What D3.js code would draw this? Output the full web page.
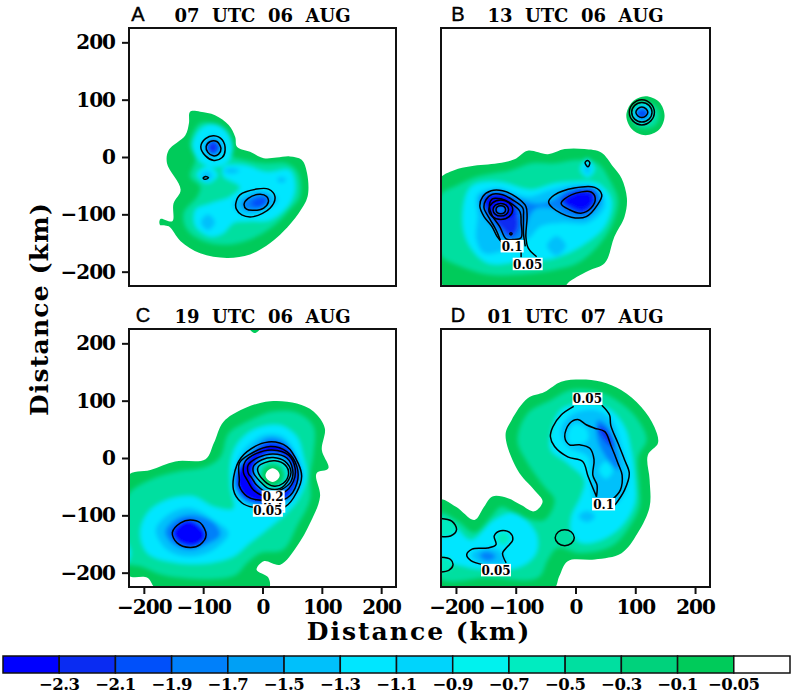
<!DOCTYPE html>
<html>
<head>
<meta charset="utf-8">
<script src="https://cdn.jsdelivr.net/npm/d3@7"></script>
<style>
html, body { margin: 0; background: #fff; }
text { font-family: "DejaVu Serif", serif; font-weight: bold; fill: #000; }
</style>
</head>
<body>
<div id="chart"></div>
<script>
// band colours, deepest first, last one is the white box above -0.05
var bandColors = ["#0000ff", "#0a2cf2", "#0050fa", "#0080fa", "#00a0f5", "#00c0fb", "#00e6ff",
  "#00d4fc", "#00f2ee", "#00ecc0", "#00dfa0", "#00d27c", "#00cb5a", "#ffffff"];
var legendLabels = ["-2.3", "-2.1", "-1.9", "-1.7", "-1.5", "-1.3", "-1.1", "-0.9", "-0.7", "-0.5", "-0.3", "-0.1", "-0.05"];
var tickValues = [-200, -100, 0, 100, 200];

// filled bands, [colour index, ring in km]; the -0.05 edges come first in each panel
var ringsA = [
  [12, [[-122,79],[-105,79],[-80,73],[-57,56],[-46,35],[-43,18],[-21,9],[2,-2],[24,-1],[46,1],[66,-5],[75,-28],[76,-69],[61,-98],[35,-130],[13,-150],[-21,-170],[-60,-176],[-105,-168],[-138,-147],[-158,-121],[-173,-118],[-172,-108],[-152,-112],[-150,-81],[-138,-57],[-161,-11],[-158,12],[-130,38],[-124,59]]],
  [10, [[-105,59],[-80,56],[-63,35],[-60,6],[-32,-5],[2,-11],[41,-11],[60,-28],[63,-69],[46,-92],[18,-121],[-21,-144],[-60,-153],[-99,-147],[-127,-127],[-133,-98],[-110,-69],[-105,-52],[-122,-34],[-113,-5],[-122,24]]],
  [6, [[-83,58],[-60,45],[-50,15],[-60,-10],[-85,-18],[-108,-5],[-118,20],[-105,48]]],
  [6, [[-111,-31],[-93,-16],[-75,-31],[-93,-46]]],
  [6, [[-66,-17],[-32,-14],[7,-26],[46,-23],[55,-52],[46,-81],[13,-110],[-21,-112],[-49,-115],[-66,-133],[-88,-139],[-113,-121],[-113,-92],[-88,-81],[-54,-69],[-38,-52],[-66,-34]]],
  [5, [[-103,18],[-83,38],[-63,18],[-83,-4]]],
  [5, [[-50,-82],[-12,-58],[22,-68],[26,-76],[-10,-100],[-38,-98]]],
  [5, [[-104,-114],[-92,-100],[-80,-114],[-92,-128]]],
  [5, [[-66,-24],[-52,-19],[-38,-24],[-52,-29]]],
  [5, [[24,-40],[32,-35],[40,-40],[32,-45]]],
  [5, [[-104,-33],[-94,-25],[-84,-33],[-94,-41]]],
  [2, [[-95,17],[-83,31],[-71,17],[-83,3]]],
  [3, [[-36,-82],[-10,-66],[10,-68],[12,-78],[-8,-92],[-26,-92]]],
  [1, [[-91,16],[-84,24],[-77,16],[-84,8]]],
  [2, [[-20,-81],[-8,-71],[6,-72],[4,-84],[-10,-88]]]
];
var linesA = [
  [true, [[-104,18],[-96,32],[-82,37],[-68,30],[-63,12],[-68,-1],[-82,-6],[-96,2]]],
  [true, [[-95,18],[-88,27],[-77,27],[-70,15],[-74,5],[-83,2],[-92,8]]],
  [true, [[-100,-37],[-96,-34],[-91,-36],[-96,-39]]],
  [true, [[-45,-81],[-38,-66],[-10,-56],[10,-56],[21,-69],[13,-89],[-15,-104],[-35,-101],[-44,-91]]],
  [true, [[-31,-82],[-24,-72],[-4,-65],[7,-69],[10,-78],[2,-89],[-15,-93],[-27,-91]]]
];
var labelsA = [];

var ringsB = [
  [12, [[-228,-40],[-203,-23],[-175,-16],[-130,-11],[-102,-4],[-80,11],[-46,5],[-18,14],[15,14],[43,8],[63,-17],[77,-37],[86,-72],[82,-104],[65,-139],[49,-185],[21,-199],[-13,-220],[-21,-232],[-211,-232],[-228,-211]]],
  [12, [[117,106],[140,96],[149,72],[140,48],[117,38],[95,48],[85,72],[95,96]]],
  [10, [[-228,-69],[-197,-49],[-164,-34],[-108,-23],[-74,-11],[-35,-11],[4,-5],[37,-11],[57,-40],[71,-75],[60,-121],[37,-156],[4,-185],[-35,-197],[-91,-205],[-147,-205],[-192,-191],[-228,-168]]],
  [10, [[117,96],[134,88],[140,72],[134,56],[117,50],[100,56],[94,72],[100,88]]],
  [6, [[-175,-52],[-130,-43],[-74,-57],[-35,-46],[-7,-43],[37,-46],[60,-75],[49,-121],[9,-156],[-35,-176],[-91,-182],[-147,-185],[-180,-150],[-189,-104]]],
  [6, [[8,-22],[20,-2],[32,-22],[20,-36]]],
  [6, [[93,76],[112,95],[131,76],[112,57]]],
  [5, [[15,-22],[20,-12],[25,-22],[20,-30]]],
  [5, [[-164,-66],[-130,-54],[-80,-69],[-41,-57],[4,-49],[40,-57],[49,-86],[21,-115],[-24,-115],[-58,-121],[-80,-144],[-97,-147],[-119,-162],[-153,-168],[-166,-144],[-164,-104]]],
  [5, [[-48,-155],[-32,-138],[-16,-155],[-32,-172]]],
  [2, [[100,76],[112,87],[124,76],[112,64]]],
  [3, [[-158,-69],[-130,-59],[-102,-69],[-69,-81],[-44,-78],[-13,-57],[32,-54],[43,-75],[21,-104],[-13,-104],[-41,-89],[-69,-92],[-85,-127],[-91,-144],[-116,-144],[-139,-121],[-155,-98]]],
  [1, [[-153,-69],[-127,-62],[-105,-72],[-97,-98],[-97,-127],[-108,-139],[-122,-127],[-141,-104],[-153,-86]]],
  [1, [[-24,-75],[4,-57],[32,-60],[32,-81],[15,-98],[-7,-92]]],
  [0, [[-150,-75],[-125,-66],[-105,-81],[-105,-104],[-125,-104],[-144,-92]]],
  [0, [[-18,-78],[4,-63],[26,-66],[26,-81],[9,-92],[-7,-86]]],
  [3, [[-135,-92],[-125,-84],[-115,-92],[-125,-100]]]
];
var linesB = [
  [true, [[-45,-78],[-35,-66],[-2,-54],[32,-53],[44,-66],[37,-83],[18,-104],[-7,-105],[-38,-89]]],
  [true, [[-24,-81],[-7,-66],[26,-61],[33,-72],[26,-89],[9,-98],[-10,-92]]],
  [true, [[16,-10],[20,-6],[24,-10],[21,-17]]],
  [true, [[90,78],[96,93],[111,100],[126,93],[132,78],[126,63],[111,56],[96,63]]],
  [true, [[94,78],[99,90],[111,95],[123,90],[128,78],[123,66],[111,61],[99,66]]],
  [true, [[111,87],[118,84],[121,78],[118,72],[111,69],[104,72],[101,78],[104,84]]],
  [false, [[-65,-174],[-79,-159],[-83,-139],[-81,-104],[-83,-86],[-99,-70],[-122,-59],[-141,-59],[-155,-69],[-160,-86],[-153,-104],[-140,-121],[-131,-139],[-123,-149]]],
  [false, [[-84,-156],[-87,-133],[-87,-104],[-88,-89],[-105,-75],[-122,-66],[-139,-65],[-150,-75],[-153,-89],[-144,-107],[-133,-127],[-125,-147]]],
  [true, [[-91,-141],[-91,-115],[-93,-95],[-108,-81],[-125,-73],[-139,-73],[-144,-83],[-140,-101],[-127,-121],[-116,-143],[-105,-144]]],
  [true, [[-125,-75],[-111,-80],[-105,-92],[-111,-104],[-125,-109],[-139,-104],[-145,-92],[-139,-80]]],
  [true, [[-125,-81],[-116,-84],[-112,-92],[-116,-100],[-125,-103],[-134,-100],[-138,-92],[-134,-84]]],
  [true, [[-125,-85],[-119,-87],[-117,-92],[-119,-97],[-125,-99],[-131,-97],[-133,-92],[-131,-87]]],
  [true, [[-110,-134],[-108,-132],[-106,-134],[-108,-136]]],
  [false, [[-91,-165],[-91,-175]]]
];
var labelsB = [["0.1", -106, -156], ["0.05", -80, -187]];

var ringsC = [
  [12, [[-22,226],[-13,218],[-4,226],[-13,232]]],
  [12, [[-228,-32],[-189,-21],[-147,-6],[-96,-2],[-82,26],[-66,63],[-32,86],[13,99],[58,95],[86,81],[105,52],[100,14],[111,-18],[91,-27],[97,-67],[80,-114],[58,-154],[30,-186],[2,-180],[-10,-195],[10,-209],[10,-228],[-178,-228],[-194,-209],[-228,-203]]],
  [10, [[-228,-67],[-189,-38],[-144,-24],[-94,-15],[-71,2],[-57,43],[-21,66],[18,81],[58,79],[86,55],[86,8],[80,-32],[80,-73],[58,-119],[35,-160],[-4,-166],[-26,-183],[-49,-206],[-161,-206],[-206,-189],[-228,-183]]],
  [6, [[-52,2],[-38,31],[-10,52],[30,57],[58,37],[69,2],[75,-32],[63,-67],[41,-96],[7,-125],[-21,-148],[-49,-172],[-88,-183],[-144,-183],[-194,-166],[-206,-131],[-194,-96],[-161,-73],[-116,-67],[-82,-85],[-49,-88],[-54,-50]]],
  [6, [[-235,-140],[-222,-165],[-235,-195]]],
  [5, [[-46,-15],[-32,14],[2,40],[35,37],[58,2],[69,-32],[52,-73],[24,-87],[-10,-87],[-38,-73],[-49,-50]]],
  [5, [[-180,-125],[-155,-96],[-122,-87],[-82,-108],[-57,-131],[-82,-160],[-122,-172],[-161,-160]]],
  [3, [[-43,-21],[-26,2],[7,34],[35,29],[58,-3],[63,-38],[41,-73],[2,-81],[-32,-73],[-46,-49]]],
  [3, [[-164,-128],[-144,-105],[-116,-99],[-82,-113],[-71,-134],[-94,-151],[-122,-160],[-150,-151]]],
  [0, [[-43,-24],[-24,2],[13,26],[46,14],[60,-15],[58,-44],[30,-79],[-4,-79],[-32,-67],[-43,-49]]],
  [0, [[-152,-130],[-138,-113],[-122,-108],[-99,-125],[-96,-140],[-116,-154],[-141,-148]]],
  [5, [[18,8],[41,-2],[51,-27],[41,-52],[18,-62],[-5,-52],[-15,-27],[-5,-2]]],
  [8, [[18,0],[37,-8],[45,-28],[37,-48],[18,-56],[-1,-48],[-9,-28],[-1,-8]]],
  [10, [[17,-5],[34,-12],[41,-29],[34,-46],[17,-53],[0,-46],[-6,-29],[0,-12]]],
  [12, [[17,-12],[30,-17],[35,-30],[30,-43],[17,-48],[4,-43],[-1,-30],[4,-17]]],
  [13, [[17,-18],[25,-22],[29,-30],[25,-38],[17,-42],[9,-38],[5,-30],[9,-22]]]
];
var linesC = [
  [true, [[-49,-55],[-43,-12],[-26,11],[10,28],[41,20],[60,-9],[66,-32],[58,-59],[38,-85],[-15,-86],[-35,-78]]],
  [true, [[-39,-38],[-39,-9],[-24,5],[13,20],[41,11],[58,-15],[58,-44],[41,-70],[-10,-73],[-26,-67],[-39,-49]]],
  [true, [[-32,-26],[-29,-6],[-10,8],[16,14],[44,5],[55,-18],[52,-41],[35,-61],[7,-67],[-15,-56],[-26,-38]]],
  [true, [[-24,-26],[-24,-12],[-7,1],[18,7],[41,0],[51,-21],[48,-41],[32,-55],[10,-61],[-10,-47],[-18,-35]]],
  [true, [[-15,-26],[-15,-14],[-1,-3],[18,1],[38,-6],[48,-24],[44,-38],[30,-53],[10,-53],[-4,-41]]],
  [true, [[-8,-23],[-7,-15],[4,-8],[21,-5],[38,-12],[44,-27],[35,-44],[18,-49],[4,-41]]],
  [true, [[-152,-130],[-138,-113],[-122,-108],[-105,-113],[-95,-134],[-105,-151],[-122,-156],[-144,-148]]]
];
var labelsC = [["0.1", 19, -85], ["0.2", 18, -68], ["0.05", 9, -92]];

var ringsD = [
  [12, [[-228,-73],[-200,-85],[-169,-108],[-153,-85],[-139,-67],[-113,-70],[-91,-82],[-69,-93],[-55,-76],[-69,-56],[-97,-21],[-117,40],[-107,66],[-80,104],[-52,115],[-24,133],[9,137],[43,133],[77,118],[110,89],[132,54],[138,26],[121,5],[124,-38],[124,-85],[104,-131],[77,-166],[32,-177],[-13,-180],[-27,-206],[-38,-230],[-228,-230]]],
  [10, [[-228,-96],[-197,-110],[-169,-130],[-141,-102],[-124,-85],[-91,-102],[-52,-108],[-35,-73],[-52,-50],[-80,-9],[-97,31],[-80,78],[-41,101],[-7,119],[38,116],[77,95],[105,66],[119,32],[105,2],[107,-50],[107,-85],[87,-125],[60,-154],[9,-166],[-30,-157],[-46,-177],[-63,-209],[-147,-209],[-228,-209]]],
  [6, [[-41,43],[-24,84],[15,95],[54,87],[82,54],[93,14],[99,-32],[99,-79],[77,-119],[43,-143],[9,-148],[-7,-131],[-7,-102],[9,-67],[15,-38],[-13,-9],[-41,14]]],
  [6, [[-228,-108],[-203,-119],[-175,-143],[-136,-108],[-102,-96],[-66,-131],[-66,-166],[-91,-189],[-147,-195],[-186,-189],[-228,-172]]],
  [5, [[-24,49],[-7,75],[32,84],[60,67],[77,20],[88,-27],[82,-61],[60,-85],[32,-73],[26,-32],[21,2],[-13,20]]],
  [6, [[-13,43],[-2,60],[18,52],[21,32],[4,23],[-10,25]]],
  [6, [[39,-21],[51,-6],[63,-21],[51,-36]]],
  [5, [[-175,-169],[-153,-157],[-125,-163],[-119,-183],[-153,-186]]],
  [5, [[5,-102],[19,-92],[33,-102],[19,-112]]],
  [3, [[37,66],[54,55],[71,8],[71,-21],[54,-3],[37,31]]],
  [1, [[37,54],[49,52],[65,20],[54,25]]],
  [3, [[-161,-169],[-147,-163],[-133,-172],[-147,-180]]],
  [10, [[-18,-125],[-7,-129],[-2,-139],[-7,-149],[-18,-153],[-29,-149],[-34,-139],[-29,-129]]],
  [9, [[-133,-140],[-121,-128],[-109,-140],[-121,-152]]],
  [9, [[-230,-105],[-207,-110],[-199,-122],[-207,-134],[-230,-136]]],
  [9, [[-230,-173],[-209,-177],[-205,-187],[-212,-196],[-230,-199]]]
];
var linesD = [
  [false, [[-3,90],[-24,75],[-38,54],[-42,37],[-35,20],[-13,2],[12,-6],[21,-32],[35,-67]]],
  [false, [[44,92],[57,75],[59,57],[71,26],[82,-3],[90,-27],[82,-56],[66,-82]]],
  [false, [[35,-68],[36,-47],[29,-30],[31,-3],[24,17],[7,23],[-10,23],[-18,37],[-10,60],[4,67],[18,58],[32,52],[49,46],[60,20],[71,-9],[78,-30],[75,-56],[61,-73]]],
  [true, [[-18,-125],[-7,-129],[-2,-139],[-7,-149],[-18,-153],[-29,-149],[-34,-139],[-29,-129]]],
  [false, [[-232,-105],[-207,-110],[-199,-125],[-209,-136],[-232,-136]]],
  [false, [[-232,-173],[-209,-177],[-205,-187],[-212,-196],[-232,-199]]],
  [false, [[-155,-186],[-175,-179],[-182,-169],[-173,-159],[-147,-157],[-133,-151],[-136,-136],[-125,-127],[-110,-130],[-105,-143],[-116,-157],[-122,-166],[-116,-183]]]
];
var labelsD = [["0.05", 20, 103], ["0.1", 47, -81], ["0.05", -133, -196]];

var panels = [
  {letter: "A", title: "07  UTC  06  AUG", rings: ringsA, lines: linesA, labels: labelsA, edges: 1, left: 129, right: 396, top: 28, bottom: 286, yAxis: true, xAxis: false, letterX: 138},
  {letter: "B", title: "13  UTC  06  AUG", rings: ringsB, lines: linesB, labels: labelsB, edges: 2, left: 441, right: 710, top: 28, bottom: 286, yAxis: false, xAxis: false, letterX: 458},
  {letter: "C", title: "19  UTC  06  AUG", rings: ringsC, lines: linesC, labels: labelsC, edges: 2, left: 129, right: 396, top: 329, bottom: 587, yAxis: true, xAxis: true, letterX: 143},
  {letter: "D", title: "01  UTC  07  AUG", rings: ringsD, lines: linesD, labels: labelsD, edges: 1, left: 441, right: 710, top: 329, bottom: 587, yAxis: false, xAxis: true, letterX: 458}
];

var width = 796, height = 695;
var svg = d3.select("#chart").append("svg").attr("width", width).attr("height", height);
var defs = svg.append("defs");
defs.append("filter").attr("id", "soft").attr("x", "-30%").attr("y", "-30%").attr("width", "160%").attr("height", "160%")
  .append("feGaussianBlur").attr("stdDeviation", 2);
defs.append("filter").attr("id", "edge").append("feGaussianBlur").attr("stdDeviation", 0.6);

function styleAxis(a) {
  a.select(".domain").remove();
  a.selectAll("line").attr("stroke", "#111").attr("stroke-width", 2);
  a.selectAll("text").attr("font-size", 20).attr("font-family", "DejaVu Serif").attr("font-weight", "bold")
    .attr("letter-spacing", -1);
}

panels.forEach(function(p, n) {
  var x = d3.scaleLinear().domain([-225, 225]).range([p.left, p.right]);
  var y = d3.scaleLinear().domain([-225, 225]).range([p.bottom, p.top]);
  var closedLine = d3.line().x(function(d) { return x(d[0]); }).y(function(d) { return y(d[1]); }).curve(d3.curveCatmullRomClosed.alpha(0.5));
  var openLine = d3.line().x(function(d) { return x(d[0]); }).y(function(d) { return y(d[1]); }).curve(d3.curveCatmullRom.alpha(0.5));

  defs.append("clipPath").attr("id", "clip" + n).append("rect")
    .attr("x", p.left).attr("y", p.top).attr("width", p.right - p.left).attr("height", p.bottom - p.top);

  var g = svg.append("g").attr("clip-path", "url(#clip" + n + ")");

  // -0.05 edge and the white eye stay sharp, the rest is blurred into a ramp
  var eye = p.rings.filter(function(r) { return r[0] === 13; });
  var inner = p.rings.slice(p.edges).filter(function(r) { return r[0] !== 13; });
  [[p.rings.slice(0, p.edges), "edge"], [inner, "soft"], [eye, "edge"]].forEach(function(layer) {
    g.append("g").attr("filter", "url(#" + layer[1] + ")").selectAll("path").data(layer[0]).enter().append("path")
      .attr("d", function(r) { return closedLine(r[1]); })
      .attr("fill", function(r) { return bandColors[r[0]]; });
  });

  g.selectAll("path.contour").data(p.lines).enter().append("path")
    .attr("class", "contour")
    .attr("d", function(l) { return l[0] ? closedLine(l[1]) : openLine(l[1]); })
    .attr("fill", "none").attr("stroke", "#000").attr("stroke-width", 1.5);

  var lab = g.selectAll("g.lab").data(p.labels).enter().append("g").attr("class", "lab")
    .attr("transform", function(d) { return "translate(" + x(d[1]) + "," + y(d[2]) + ")"; });
  lab.append("rect").attr("x", function(d) { return -d[0].length * 3.5 - 1; }).attr("y", -6.5)
    .attr("width", function(d) { return d[0].length * 7 + 2; }).attr("height", 12.5).attr("fill", "#fff");
  lab.append("text").attr("text-anchor", "middle").attr("dy", 4.5).attr("font-size", 12).text(function(d) { return d[0]; });

  svg.append("rect").attr("x", p.left).attr("y", p.top).attr("width", p.right - p.left).attr("height", p.bottom - p.top)
    .attr("fill", "none").attr("stroke", "#111").attr("stroke-width", 2);

  if (p.yAxis) {
    svg.append("g").attr("transform", "translate(" + p.left + ",0)")
      .call(d3.axisLeft(y).tickValues(tickValues).tickSize(7).tickPadding(7))
      .call(styleAxis);
  }
  if (p.xAxis) {
    svg.append("g").attr("transform", "translate(0," + p.bottom + ")")
      .call(d3.axisBottom(x).tickValues(tickValues).tickSize(7).tickPadding(6))
      .call(styleAxis);
  }

  svg.append("text").attr("x", p.letterX).attr("y", p.top - 7).attr("text-anchor", "middle")
    .style("font-family", "'Liberation Sans', sans-serif").style("font-weight", "normal")
    .attr("stroke", "#000").attr("stroke-width", 0.4).attr("font-size", 20).text(p.letter);
  svg.append("text").attr("x", (p.left + p.right) / 2).attr("y", p.top - 6).attr("text-anchor", "middle")
    .attr("font-size", 18).style("white-space", "pre").text(p.title);
});

svg.append("text").attr("x", 419).attr("y", 640).attr("text-anchor", "middle").attr("font-size", 25)
  .attr("letter-spacing", 2).text("Distance (km)");
svg.append("text").attr("transform", "translate(48,309) rotate(-90)").attr("text-anchor", "middle").attr("font-size", 25)
  .attr("letter-spacing", 1.2).text("Distance (km)");

// legend, labels sit on the box edges
var lx = d3.scaleBand().domain(d3.range(bandColors.length)).range([3, 790]);
var legend = svg.append("g");
legend.selectAll("rect").data(bandColors).enter().append("rect")
  .attr("x", function(d, i) { return lx(i); }).attr("y", 656).attr("width", lx.bandwidth()).attr("height", 17)
  .attr("fill", function(d) { return d; }).attr("stroke", "#111").attr("stroke-width", 1.5);
legend.selectAll("text").data(legendLabels).enter().append("text")
  .attr("x", function(d, i) { return lx(i) + lx.bandwidth(); }).attr("y", 690).attr("text-anchor", "middle")
  .attr("font-size", 16.5).attr("letter-spacing", -0.5)
  .text(function(d) { return d.replace("-", "\u2212"); });
</script>
</body>
</html>
